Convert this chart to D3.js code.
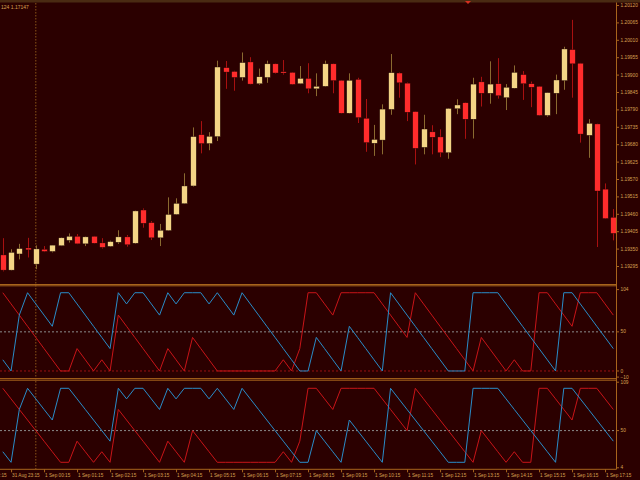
<!DOCTYPE html>
<html><head><meta charset="utf-8">
<script src="https://cdn.jsdelivr.net/npm/d3@7"></script>
<style>
html,body{margin:0;padding:0;background:#2b0000;overflow:hidden}
text{font-family:"Liberation Sans",Arial,sans-serif}
</style></head>
<body>
<svg id="chart" width="640" height="480"></svg>
<script>
// ---------------- DATA ----------------
const headerText = "124 1.17147";
const firstBar = "2020 31 Aug 23:00";
const barCount = 75; // M15 bars
const open  = [1.19330,1.19282,1.19333,1.19352,1.19301,1.19348,1.19341,1.19359,1.19376,1.19389,1.19365,1.19389,1.19368,1.19357,1.19370,1.19387,1.19367,1.19472,1.19432,1.19384,1.19407,1.19458,1.19492,1.19548,1.19710,1.19682,1.19704,1.19922,1.19910,1.19891,1.19940,1.19871,1.19891,1.19934,1.19909,1.19907,1.19871,1.19888,1.19855,1.19863,1.19934,1.19882,1.19778,1.19885,1.19762,1.19683,1.19693,1.19790,1.19905,1.19873,1.19783,1.19670,1.19719,1.19703,1.19653,1.19792,1.19811,1.19759,1.19877,1.19841,1.19871,1.19827,1.19857,1.19900,1.19871,1.19863,1.19771,1.19841,1.19881,1.19979,1.19936,1.19708,1.19744,1.19538,1.19449];
const high  = [1.19383,1.19348,1.19365,1.19384,1.19360,1.19358,1.19361,1.19385,1.19398,1.19396,1.19388,1.19390,1.19383,1.19375,1.19408,1.19393,1.19470,1.19477,1.19437,1.19428,1.19512,1.19509,1.19588,1.19733,1.19753,1.19718,1.19944,1.19943,1.19912,1.19970,1.19955,1.19919,1.19944,1.19935,1.19946,1.19908,1.19927,1.19936,1.19904,1.19944,1.19935,1.19883,1.19904,1.19890,1.19823,1.19741,1.19806,1.19965,1.19907,1.19875,1.19783,1.19773,1.19740,1.19727,1.19794,1.19822,1.19812,1.19890,1.19893,1.19942,1.19952,1.19870,1.19929,1.19911,1.19878,1.19864,1.19843,1.19900,1.19988,1.20073,1.19937,1.19759,1.19745,1.19556,1.19475];
const low   = [1.19278,1.19281,1.19316,1.19322,1.19285,1.19339,1.19338,1.19358,1.19369,1.19364,1.19358,1.19366,1.19350,1.19356,1.19365,1.19356,1.19365,1.19416,1.19377,1.19358,1.19406,1.19457,1.19491,1.19546,1.19651,1.19661,1.19690,1.19855,1.19849,1.19881,1.19869,1.19868,1.19874,1.19903,1.19900,1.19868,1.19870,1.19841,1.19832,1.19862,1.19841,1.19777,1.19777,1.19747,1.19656,1.19643,1.19648,1.19773,1.19827,1.19753,1.19616,1.19648,1.19648,1.19639,1.19634,1.19775,1.19697,1.19698,1.19799,1.19808,1.19824,1.19788,1.19856,1.19820,1.19797,1.19770,1.19767,1.19775,1.19852,1.19827,1.19685,1.19637,1.19355,1.19444,1.19376];
const close = [1.19282,1.19338,1.19350,1.19346,1.19349,1.19341,1.19361,1.19384,1.19389,1.19365,1.19387,1.19367,1.19354,1.19372,1.19387,1.19362,1.19469,1.19430,1.19384,1.19408,1.19458,1.19493,1.19548,1.19704,1.19682,1.19705,1.19924,1.19908,1.19891,1.19938,1.19870,1.19893,1.19934,1.19905,1.19905,1.19869,1.19888,1.19855,1.19863,1.19934,1.19881,1.19778,1.19882,1.19764,1.19685,1.19695,1.19791,1.19906,1.19874,1.19781,1.19667,1.19728,1.19702,1.19653,1.19793,1.19804,1.19759,1.19870,1.19841,1.19870,1.19833,1.19860,1.19907,1.19871,1.19860,1.19771,1.19843,1.19883,1.19981,1.19934,1.19712,1.19746,1.19532,1.19445,1.19398];
const priceTicks = [1.20120,1.20065,1.20010,1.19955,1.19900,1.19845,1.19790,1.19735,1.19680,1.19625,1.19570,1.19515,1.19460,1.19405,1.19350,1.19295];
const timeTickLabels = ["31 Aug 22:15","31 Aug 23:15","1 Sep 00:15","1 Sep 01:15","1 Sep 02:15","1 Sep 03:15","1 Sep 04:15","1 Sep 05:15","1 Sep 06:15","1 Sep 07:15","1 Sep 08:15","1 Sep 09:15","1 Sep 10:15","1 Sep 11:15","1 Sep 12:15","1 Sep 13:15","1 Sep 14:15","1 Sep 15:15","1 Sep 16:15","1 Sep 17:15"];
const separatorTime = "2020 1 Sep 00:00";
// indicator window 1
const ind1Range = [-10, 104];
const ind1Labels = [104, 50, 0, -10];
const ind1Levels = [50, 0];
const ind1Blue = [14.3,0,71.4,100,85.7,71.4,57.1,100,100,85.7,71.4,57.1,42.9,28.6,100,85.7,100,100,85.7,71.4,100,85.7,100,100,100,85.7,100,85.7,71.4,100,85.7,71.4,57.1,42.9,28.6,14.3,0,0,42.9,28.6,14.3,0,57.1,42.9,28.6,14.3,0,100,85.7,71.4,57.1,42.9,28.6,14.3,0,0,0,100,100,100,100,85.7,71.4,57.1,42.9,28.6,14.3,0,100,100,85.7,71.4,57.1,42.9,28.6];
const ind1Red  = [100,85.7,71.4,57.1,42.9,28.6,14.3,0,0,28.6,14.3,0,14.3,0,71.4,57.1,42.9,28.6,14.3,0,28.6,14.3,0,42.9,28.6,14.3,0,0,0,0,0,0,0,0,14.3,0,28.6,100,100,85.7,71.4,100,100,100,100,100,85.7,71.4,57.1,42.9,100,85.7,71.4,57.1,42.9,28.6,14.3,0,42.9,28.6,14.3,0,14.3,0,0,100,100,85.7,71.4,57.1,100,100,100,85.7,71.4];
// indicator window 2
const ind2Range = [4, 109];
const ind2Labels = [109, 50, 4];
const ind2Levels = [50];
const ind2Blue = [25,12.5,75,100,87.5,75,62.5,100,100,87.5,75,62.5,50,37.5,100,87.5,100,100,87.5,75,100,87.5,100,100,100,87.5,100,87.5,75,100,87.5,75,62.5,50,37.5,25,12.5,12.5,50,37.5,25,12.5,62.5,50,37.5,25,12.5,100,87.5,75,62.5,50,37.5,25,12.5,12.5,12.5,100,100,100,100,87.5,75,62.5,50,37.5,25,12.5,100,100,87.5,75,62.5,50,37.5];
const ind2Red  = [100,87.5,75,62.5,50,37.5,25,12.5,12.5,37.5,25,12.5,25,12.5,75,62.5,50,37.5,25,12.5,37.5,25,12.5,50,37.5,25,12.5,12.5,12.5,12.5,12.5,12.5,12.5,12.5,25,12.5,37.5,100,100,87.5,75,100,100,100,100,100,87.5,75,62.5,50,100,87.5,75,62.5,50,37.5,25,12.5,50,37.5,25,12.5,25,12.5,12.5,100,100,87.5,75,62.5,100,100,100,87.5,75];

// ---------------- DRAW ----------------
const W = 640, H = 480;
const C = {bg:"#2b0000", axis:"#a8641c", text:"#d8a050",
  bull:"#f4d486", bear:"#ff2c2c", bullWick:"#8a6a30", bearWick:"#a81010",
  blue:"#2a8cc8", red:"#c81418", lvlGray:"#8c8c8c", lvlRed:"#9a1010"};
const svg = d3.select("#chart");
svg.append("rect").attr("width",W).attr("height",H).attr("fill",C.bg);

const parse = d3.utcParse("%Y %e %b %H:%M");
const t0 = parse(firstBar);
const barTimes = d3.range(barCount).map(i => d3.utcMinute.offset(t0, 15*i));
const plotRight = 616.5;
const x = d3.scaleUtc().domain([barTimes[0], barTimes[barCount-1]]).range([2.8, 613.3]);

const mainTop = 3, mainBottom = 284;
const y = d3.scaleLinear().domain([1.19295, 1.20120]).range([266, 5]);
const P1 = {top:285.8, bottom:378.6};
const P2 = {top:380.2, bottom:469.3};
const p1 = d3.scaleLinear().domain(ind1Range).range([378.8, 289.6]);
const p2 = d3.scaleLinear().domain(ind2Range).range([469.5, 380.7]);

const defs = svg.append("defs");
function clip(id, y0, y1){
  defs.append("clipPath").attr("id",id).append("rect").attr("x",0).attr("y",y0).attr("width",plotRight).attr("height",y1-y0);
}
clip("cMain", mainTop, mainBottom); clip("cP1", P1.top, P1.bottom); clip("cP2", P2.top, P2.bottom);

// top border
svg.append("rect").attr("x",0).attr("y",0).attr("width",W).attr("height",2.5).attr("fill","#4a2a12");

// period separator
const sepX = x(parse(separatorTime));
svg.append("line").attr("x1",sepX).attr("x2",sepX).attr("y1",3).attr("y2",469)
  .attr("stroke","#8a5418").attr("stroke-width",1).attr("stroke-dasharray","1.5,1.5");

// candles
const gC = svg.append("g").attr("clip-path","url(#cMain)");
const bars = d3.range(barCount).map(i => ({i, o:open[i], h:high[i], l:low[i], c:close[i], t:barTimes[i]}));
gC.selectAll("line.w").data(bars).join("line")
  .attr("x1",d=>Math.round(x(d.t))+0.5).attr("x2",d=>Math.round(x(d.t))+0.5)
  .attr("y1",d=>y(d.h)).attr("y2",d=>y(d.l))
  .attr("stroke",d=>d.c>=d.o?C.bullWick:C.bearWick).attr("stroke-width",1);
const bw = 5.6;
gC.selectAll("rect.b").data(bars).join("rect")
  .attr("x",d=>Math.round(x(d.t))+0.5-bw/2)
  .attr("y",d=>y(Math.max(d.o,d.c)))
  .attr("width",bw)
  .attr("height",d=>Math.max(1.2, Math.abs(y(d.o)-y(d.c))))
  .attr("fill",d=>d.c>=d.o?C.bull:C.bear)
  .attr("stroke","#1a0000").attr("stroke-width",0.4);

// header text
svg.append("text").attr("x",1).attr("y",9).attr("fill",C.text).attr("font-size",5).text(headerText);
// shift marker
svg.append("path").attr("d","M465,1 L471,1 L468,4 Z").attr("fill","#d83020");

// pane borders
function hline(yv, col){ svg.append("line").attr("x1",0).attr("x2",plotRight).attr("y1",yv).attr("y2",yv).attr("stroke",col).attr("stroke-width",1); }
hline(284.5, C.axis); hline(285.8, C.axis);
hline(378.6, C.axis); hline(380.2, C.axis);
hline(469.3, C.axis);
svg.append("line").attr("x1",plotRight).attr("x2",plotRight).attr("y1",2.5).attr("y2",469.3).attr("stroke",C.axis).attr("stroke-width",1);

// price axis
const yAxis = d3.axisRight(y).tickValues(priceTicks).tickFormat(d3.format(".5f")).tickSize(2.5).tickPadding(1.5);
const gy = svg.append("g").attr("transform",`translate(${plotRight},0)`).call(yAxis);
gy.select(".domain").remove();
gy.selectAll("line").attr("stroke",C.axis);
gy.selectAll("text").attr("fill",C.text).attr("font-size",4.8).attr("font-family","Liberation Sans");

// indicator panes
function pane(scale, box, labels, levels, blue, red, clipId, lvlColors){
  const g = svg.append("g").attr("clip-path",`url(#${clipId})`);
  levels.forEach((lv,k)=>{
    g.append("line").attr("x1",0).attr("x2",plotRight).attr("y1",scale(lv)).attr("y2",scale(lv))
     .attr("stroke",lvlColors[k]).attr("stroke-width",1).attr("stroke-dasharray","2,2");
  });
  const line = d3.line().x((d,i)=>x(barTimes[i])).y(d=>scale(d));
  g.append("path").datum(red).attr("d",line).attr("fill","none").attr("stroke",C.red).attr("stroke-width",1);
  g.append("path").datum(blue).attr("d",line).attr("fill","none").attr("stroke",C.blue).attr("stroke-width",1);
  const ax = d3.axisRight(scale).tickValues(labels).tickSize(2.5).tickPadding(1.5);
  const ga = svg.append("g").attr("transform",`translate(${plotRight},0)`).call(ax);
  ga.select(".domain").remove();
  ga.selectAll("line").attr("stroke",C.axis);
  ga.selectAll(".tick").attr("transform", d=>{
    let yy = scale(d); yy = Math.max(box.top+2, Math.min(box.bottom-1.5, yy)); return `translate(0,${yy})`;
  });
  ga.selectAll("text").attr("fill",C.text).attr("font-size",4.8).attr("font-family","Liberation Sans");
}
pane(p1, P1, ind1Labels, ind1Levels, ind1Blue, ind1Red, "cP1", [C.lvlGray, C.lvlRed]);
pane(p2, P2, ind2Labels, ind2Levels, ind2Blue, ind2Red, "cP2", [C.lvlGray]);

// time axis
const tickDates = timeTickLabels.map(s => parse("2020 " + s));
const xAxis = d3.axisBottom(x).tickValues(tickDates).tickFormat((d,i)=>timeTickLabels[i]).tickSize(3).tickPadding(1);
const gx = svg.append("g").attr("transform","translate(0,469.3)").call(xAxis);
gx.select(".domain").remove();
gx.selectAll("line").attr("stroke",C.axis);
gx.selectAll("text").attr("fill",C.text).attr("font-size",4.7).attr("text-anchor","start").attr("dx",0.5).attr("font-family","Liberation Sans");
</script>
</body></html>
